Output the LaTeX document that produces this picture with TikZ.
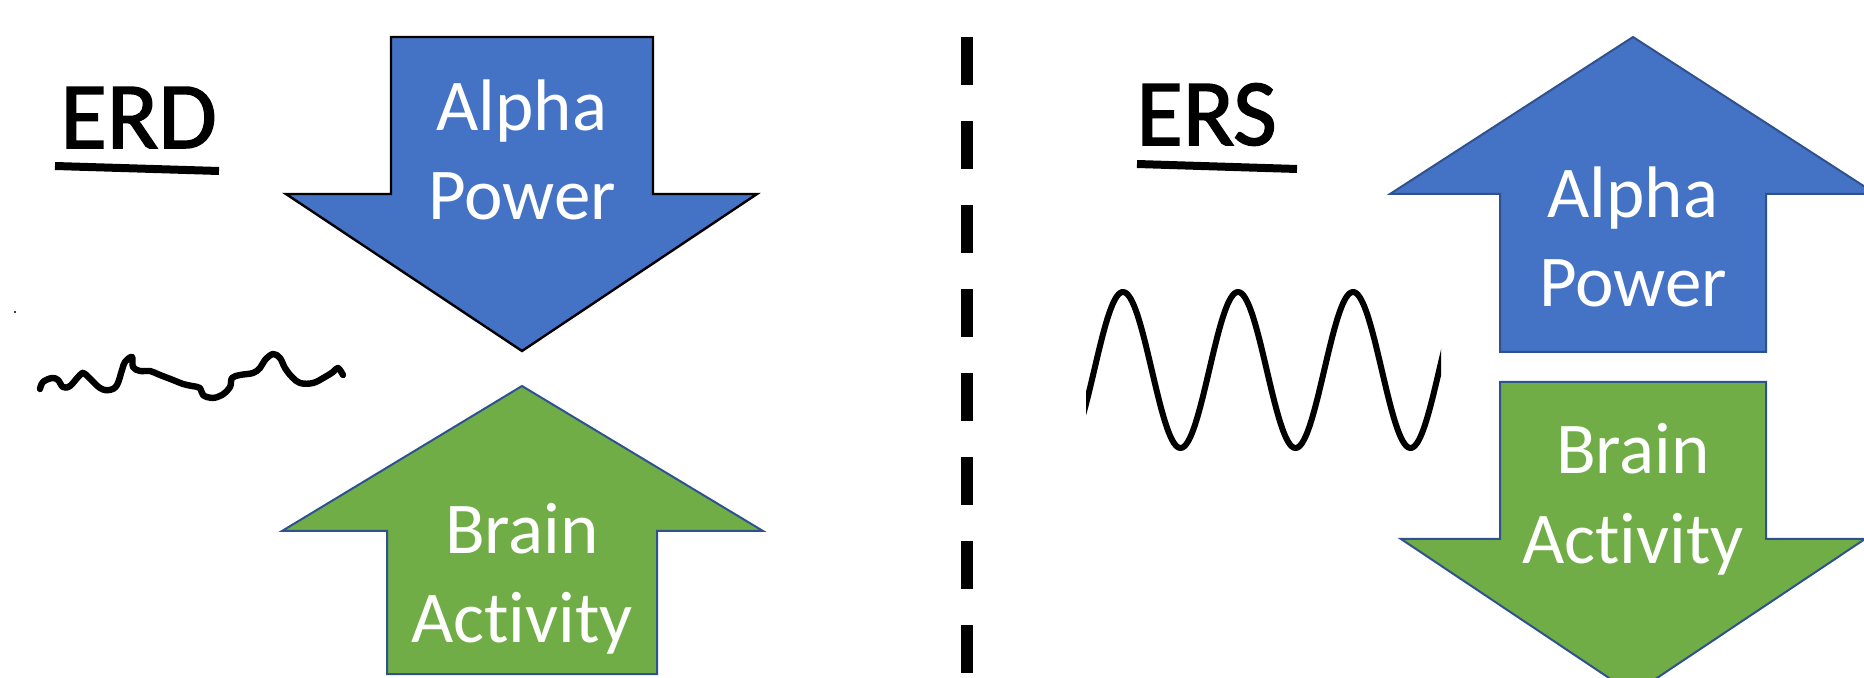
\documentclass[tikz,border=0pt]{standalone}
\usepackage{fontspec}
\setmainfont[Ligatures=NoCommon]{Carlito}
\newfontfamily\headfont[FakeBold=1.6]{Carlito}
\usepackage{xcolor}
\definecolor{alphablue}{RGB}{68,114,196}
\definecolor{braingreen}{RGB}{112,173,71}
\definecolor{rim}{RGB}{47,82,143}
\usepackage{tikz}
\usetikzlibrary{calc}
\tikzset{
  alphaarrow/.style={fill=alphablue,draw=rim,line width=1pt},
  brainarrow/.style={fill=braingreen,draw=rim,line width=1pt},
  word/.style={text=white,font=\fontsize{36.5}{44.5}\selectfont,%
    align=center,inner sep=0pt},
  heading/.style={font=\headfont\fontsize{47.5}{50}\selectfont,inner sep=0pt},
  bar/.style={line width=4pt},
  trace/.style={line width=3.2pt,line cap=round,line join=round},
}

\begin{document}
\begin{tikzpicture}[x=0.5pt,y=-0.5pt]
\useasboundingbox (0,0) rectangle (1864,678);
\clip (0,0) rectangle (1864,678);
% ERD side
\node[heading,anchor=base west] (erd) at (60,148) {ERD};
\draw[bar] (55,166) -- (219,171);
\fill (15,312) circle (1.2);
\draw[trace] plot[smooth,tension=0.6] coordinates {
  (40,389) (43,382) (52,378) (58,380) (63,387) (70,386) (80,375) (85,374)
  (100,388) (110,390) (117,385) (122,370) (125,362) (132,357) (133,367)
  (140,371) (150,371) (160,375) (173,380) (183,384) (192,386) (200,388)
  (203,395) (212,398) (222,395) (230,387) (232,378) (240,375) (253,373)
  (260,368) (265,360) (273,354) (280,358) (285,368) (292,377) (300,383)
  (313,383) (325,377) (333,372) (338,368) (343,375)};
\draw[alphaarrow,draw=black,line width=1.2pt] (391,37) -- (653,37) -- (653,194)
  -- (757,194) -- (522,351) -- (286,194) -- (391,194) -- cycle;
\draw[brainarrow] (522,386) -- (763,531) -- (657,531) -- (657,674)
  -- (387,674) -- (387,531) -- (282,531) -- cycle;
\node[word,anchor=base] (alphaL) at (522,220) {Alpha\\Power};
\node[word,anchor=base] (brainL) at (522,642) {Brain\\Activity};

% divider
\draw[line width=6pt,dash pattern=on 24pt off 18pt] (967,37) -- (967,673);

% ERS side
\node[heading,anchor=base west] (ers) at (1136,145) {ERS};
\draw[bar] (1137,164) -- (1297,169);
\begin{scope}
  \clip (1086,250) rectangle (1441,480);
  \draw[line width=3pt] plot[domain=1075:1455,samples=220,smooth]
    (\x,{370-78*cos((\x-1123)*3.1304)});
\end{scope}
\draw[alphaarrow] (1633,37) -- (1876,194) -- (1766,194) -- (1766,352)
  -- (1500,352) -- (1500,194) -- (1390,194) -- cycle;
\draw[brainarrow] (1500,382) -- (1766,382) -- (1766,539) -- (1865,539)
  -- (1633,694) -- (1401,539) -- (1500,539) -- cycle;
\node[word,anchor=base] (alphaR) at (1633,307) {Alpha\\Power};
\node[word,anchor=base] (brainR) at (1633,563) {Brain\\Activity};
\end{tikzpicture}
\end{document}
